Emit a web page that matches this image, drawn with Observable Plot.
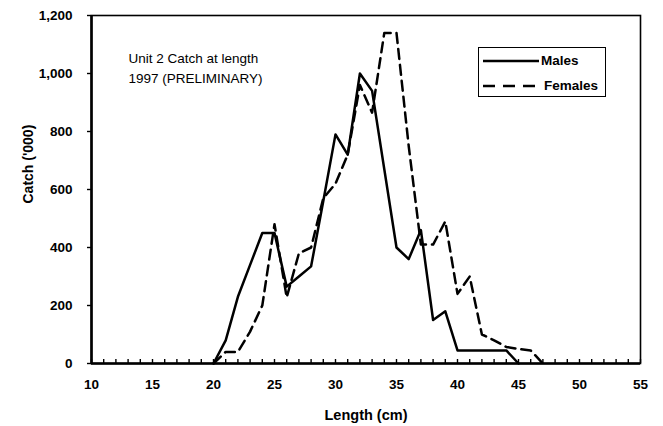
<!DOCTYPE html>
<html>
<head>
<meta charset="utf-8">
<script src="https://cdn.jsdelivr.net/npm/d3@7"></script>
<script src="https://cdn.jsdelivr.net/npm/@observablehq/plot@0.6"></script>
<style>
  html, body { margin: 0; padding: 0; background: #fff; }
  #wrap { position: relative; width: 663px; height: 426px; font-family: "Liberation Sans", Arial, sans-serif; }
  #legend { position: absolute; left: 478px; top: 47px; width: 128px; height: 50px; border: 1.5px solid #000; background: #fff; box-sizing: border-box; font-weight: bold; font-size: 13.5px; }
  #legend .row { position: absolute; left: 3px; display: flex; align-items: center; }
  #legend svg { display: block; }
</style>
</head>
<body>
<div id="wrap"></div>
<script>
// Length classes (cm)
const maleLengths = [20,21,22,23,24,25,26,27,28,29,30,31,32,33,34,35,36,37,38,39,40,41,42,43,44,45];
const maleCatch   = [0,80,230,340,450,450,265,300,335,560,790,720,1000,940,670,400,360,460,150,180,45,45,45,45,45,0];
const femaleLengths = [20,21,22,23,24,25,26,27,28,29,30,31,32,33,34,35,36,37,38,39,40,41,42,43,44,45,46,47];
const femaleCatch   = [0,40,40,110,200,480,228,380,400,570,620,720,960,865,1140,1140,750,410,410,490,240,300,100,80,57,50,45,0];
const xTicks = [10,15,20,25,30,35,40,45,50,55];
const xMinorTicks = d3.range(10, 56, 1);
const yTicks = [0,200,400,600,800,1000,1200];
const seriesNames = ["Males", "Females"];
const annotation = "Unit 2 Catch at length\n1997 (PRELIMINARY)";

const males = maleLengths.map((x, i) => ({x, y: maleCatch[i]}));
const females = femaleLengths.map((x, i) => ({x, y: femaleCatch[i]}));

const chart = Plot.plot({
  width: 663,
  height: 426,
  marginLeft: 91,
  marginRight: 23,
  marginTop: 15,
  marginBottom: 63,
  style: { fontFamily: "'Liberation Sans', Arial, sans-serif", fontSize: "13.5px", fontWeight: "bold", color: "#000", background: "#fff" },
  x: { domain: [10, 55] },
  y: { domain: [0, 1200] },
  marks: [
    Plot.frame({ stroke: "#000", strokeWidth: 1.6 }),
    Plot.axisX({ ticks: xMinorTicks, tickSize: -4, tickFormat: () => "", strokeWidth: 1.4, label: null }),
    Plot.axisX({ ticks: xTicks, tickSize: 0, tickPadding: 16, tickFormat: d3.format("d"), fontSize: 13.5, label: null }),
    Plot.axisY({ ticks: yTicks, tickSize: 4, tickPadding: 15, tickFormat: d3.format(","), fontSize: 13.5, label: null, strokeWidth: 1.4 }),
    Plot.text(["Length (cm)"], { frameAnchor: "bottom", dy: 52, lineAnchor: "middle", fontSize: 14.5, fontWeight: "bold" }),
    Plot.text(["Catch ('000)"], { frameAnchor: "left", dx: -63, dy: 14, rotate: -90, lineAnchor: "middle", fontSize: 14, fontWeight: "bold" }),
    Plot.ruleX([10], { stroke: "#000", strokeWidth: 2.6 }),
    Plot.ruleY([0], { stroke: "#000", strokeWidth: 2.6 }),
    Plot.line(females, { x: "x", y: "y", stroke: "#000", strokeWidth: 2.5, strokeDasharray: "10,6" }),
    Plot.line(males, { x: "x", y: "y", stroke: "#000", strokeWidth: 2.5 }),
    Plot.text([annotation], { frameAnchor: "top-left", dx: 37, dy: 34, lineAnchor: "top", textAnchor: "start", fontSize: 13.5, fontWeight: "normal", fill: "#000", lineHeight: 1.45 })
  ]
});

const wrap = document.getElementById("wrap");
wrap.appendChild(chart);

const legend = document.createElement("div");
legend.id = "legend";
legend.innerHTML = `
  <div class="row" style="top:5px">
    <svg width="58" height="10"><line x1="1" y1="5" x2="57" y2="5" stroke="#000" stroke-width="2.5"/></svg>
    <span style="margin-left:1px">${seriesNames[0]}</span>
  </div>
  <div class="row" style="top:30px">
    <svg width="62" height="10"><line x1="1" y1="5" x2="57" y2="5" stroke="#000" stroke-width="2.5" stroke-dasharray="12,8"/></svg>
    <span>${seriesNames[1]}</span>
  </div>`;
wrap.appendChild(legend);
</script>
</body>
</html>
